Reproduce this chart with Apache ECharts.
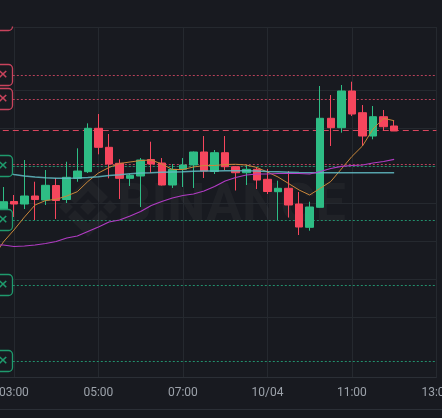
<!DOCTYPE html>
<html>
<head>
<meta charset="utf-8">
<script src="https://cdn.jsdelivr.net/npm/echarts@6/dist/echarts.min.js"></script>
<style>
  html, body { margin: 0; padding: 0; background: #181a20; }
  #chart { width: 442px; height: 418px; }
</style>
</head>
<body>
<div id="chart"></div>
<script>
  // 15 minute candles
  const times = ['02:30', '02:45', '03:00', '03:15', '03:30', '03:45', '04:00', '04:15', '04:30', '04:45',
    '05:00', '05:15', '05:30', '05:45', '06:00', '06:15', '06:30', '06:45', '07:00', '07:15',
    '07:30', '07:45', '08:00', '08:15', '08:30', '08:45', '09:00', '09:15', '09:30', '09:45',
    '10:00', '10:15', '10:30', '10:45', '11:00', '11:15', '11:30', '11:45', '12:00', '12:15',
    '12:30', '12:45', '13:00']
  const tickTimes = ['03:00', '05:00', '07:00', '09:00', '11:00', '13:00']
  const tickLabels = ['03:00', '05:00', '07:00', '10/04', '11:00', '13:00']

  // [open, close, low, high]
  const candles = [
    ['-', '-', '-', '-'],
    [128.31, 130.50, 127.51, 134.39], [130.56, 129.89, 126.46, 132.28], [129.89, 132.01, 128.57, 141.53],
    [132.01, 131.08, 125.66, 135.79], [130.95, 134.84, 129.63, 138.89], [134.79, 130.82, 125.93, 136.77],
    [131.08, 136.96, 130.16, 141.08], [136.69, 138.62, 135.79, 144.63], [138.44, 149.92, 138.10, 151.24],
    [149.92, 144.89, 143.04, 153.70], [144.89, 140.48, 136.69, 148.41], [140.66, 136.69, 131.22, 141.72],
    [136.69, 137.49, 134.66, 137.83], [137.30, 141.53, 129.10, 142.06], [141.67, 140.48, 138.10, 146.38],
    [140.74, 134.92, 134.79, 142.06], [134.92, 139.07, 134.13, 140.48], [139.07, 140.21, 134.39, 142.06],
    [140.21, 143.65, 134.13, 143.78], [143.65, 138.62, 136.77, 147.88], [138.49, 143.47, 137.83, 144.18],
    [143.47, 139.76, 138.89, 147.88], [139.76, 138.17, 133.47, 139.95], [138.17, 139.07, 134.92, 140.21],
    [139.07, 136.24, 133.86, 139.68], [136.43, 133.20, 132.54, 139.15], [133.15, 134.05, 125.66, 136.06],
    [134.05, 129.63, 126.32, 138.62], [129.89, 123.81, 121.69, 133.07], [123.73, 129.10, 122.83, 130.50],
    [129.02, 152.57, 128.97, 161.11], [152.57, 150.08, 145.24, 158.73], [150.08, 159.79, 148.76, 161.38],
    [159.79, 153.70, 153.17, 162.25], [154.05, 147.88, 145.24, 156.08], [147.88, 152.99, 147.01, 155.82],
    [152.99, 150.34, 149.29, 154.76], [150.53, 149.21, 149.21, 151.93]
  ]

  const maFast = [115.61, 119.84, 123.02, 126.46, 129.63, 130.82, 131.14, 132.01, 133.15, 135.85,
    138.10, 139.55, 140.61, 141.01, 141.40, 141.53, 140.48, 139.02, 139.02, 139.68,
    140.08, 140.08, 140.34, 140.40, 140.21, 139.55, 138.36, 137.04, 135.32, 133.60,
    132.28, 134.05, 135.85, 139.15, 142.46, 145.24, 149.74, 152.57, 151.93]
  const maSlow = [119.05, 119.05, 118.65, 118.78, 119.05, 119.44, 119.97, 120.90, 121.43, 122.62,
    123.81, 125.13, 125.66, 126.72, 127.91, 129.50, 130.56, 131.48, 132.14, 132.54,
    133.33, 134.52, 135.98, 136.91, 137.57, 137.83, 137.83, 137.96, 137.96, 137.96,
    137.83, 138.49, 139.29, 139.87, 140.08, 140.21, 140.74, 141.14, 141.72]
  const maMid = [138.49, 138.23, 137.70, 137.30, 137.04, 136.85, 136.72, 136.69, 136.77, 136.90,
    137.12, 137.43, 137.65, 137.91, 138.10, 138.17, 138.28, 138.36, 138.44, 138.54,
    138.62, 138.62, 138.68, 138.68, 138.68, 138.62, 138.49, 138.41, 138.31, 138.20,
    138.17, 138.17, 138.17, 138.17, 138.17, 138.17, 138.17, 138.17, 138.17]

  const gridLevels = [176.72, 160, 150, 140, 130, 120, 110, 100]
  const lastPrice = 149.47
  const sellLines = [164.02, 157.67, 140.48]
  const buyLines = [139.95, 125.66, 108.47, 88.36]
  const sellBoxes = [178.57, 164.02, 157.67]
  const buyBoxes = [139.95, 125.66, 108.47, 88.36]

  const bg = '#181a20'
  const gridColor = '#25292f'
  const up = '#2ebd85'
  const down = '#f6465d'

  const chart = echarts.init(document.getElementById('chart'))

  const hLine = (v, color, type) => ({
    yAxis: v,
    lineStyle: { color: color, type: type, width: 1 }
  })

  const isTick = (i) => tickTimes.indexOf(times[i]) >= 0

  const option = {
    backgroundColor: bg,
    animation: false,
    grid: { left: -7.2, right: 5.6, top: 27, bottom: 41, outerBoundsMode: 'none', containLabel: false },
    xAxis: {
      type: 'category',
      data: times,
      boundaryGap: false,
      axisLine: { show: true, lineStyle: { color: '#2b2f36' } },
      axisTick: { show: false },
      axisLabel: {
        interval: (i) => isTick(i),
        formatter: (v) => tickLabels[tickTimes.indexOf(v)],
        color: '#9ca2aa',
        fontFamily: 'Roboto',
        fontSize: 12,
        margin: 10,
        hideOverlap: false
      },
      splitLine: {
        show: true,
        interval: (i) => isTick(i),
        lineStyle: { color: gridColor, width: 1 }
      }
    },
    yAxis: {
      type: 'value',
      min: 84.13,
      max: 176.72,
      show: false,
      splitLine: { show: false }
    },
    series: [
      {
        name: 'levels',
        type: 'line',
        data: [],
        z: 1,
        silent: true,
        markLine: {
          silent: true,
          symbol: 'none',
          label: { show: false },
          z: 1,
          data: [].concat(
            gridLevels.map(v => hLine(v, gridColor, 'solid')),
            sellLines.map(v => hLine(v, '#b8415a', [2, 2])),
            buyLines.map(v => hLine(v, '#22906c', [2, 2])),
            [hLine(lastPrice, '#d9465e', [6, 4])]
          )
        }
      },
      {
        name: 'K',
        type: 'candlestick',
        data: candles,
        barWidth: 8,
        z: 2,
        itemStyle: {
          color: up,
          color0: down,
          borderColor: up,
          borderColor0: down,
          borderWidth: 1
        }
      },
      {
        name: 'MA7',
        type: 'line',
        data: maFast,
        showSymbol: false,
        z: 3,
        lineStyle: { color: '#c9873a', width: 1 }
      },
      {
        name: 'MA25',
        type: 'line',
        data: maMid,
        showSymbol: false,
        z: 3,
        lineStyle: { color: '#62bcc4', width: 1.5, opacity: 0.85 }
      },
      {
        name: 'MA99',
        type: 'line',
        data: maSlow,
        showSymbol: false,
        z: 3,
        lineStyle: { color: '#b13bc3', width: 1.2 }
      }
    ]
  }
  chart.setOption(option)

  // watermark + order boxes
  const wm = 'rgba(255,255,255,0.035)'
  const cx = 88, cy = 207
  const graphics = [
    {
      type: 'group', x: cx, y: cy, z: 0, silent: true,
      children: [
        { type: 'polygon', shape: { points: [[0, -8], [8, 0], [0, 8], [-8, 0]] }, style: { fill: wm } },
        { type: 'polygon', shape: { points: [[-22, -7], [-15, 0], [-22, 7], [-29, 0]] }, style: { fill: wm } },
        { type: 'polygon', shape: { points: [[22, -7], [29, 0], [22, 7], [15, 0]] }, style: { fill: wm } },
        { type: 'polygon', shape: { points: [[0, -30], [20, -10], [13, -3], [0, -16], [-13, -3], [-20, -10]] }, style: { fill: wm } },
        { type: 'polygon', shape: { points: [[0, 30], [20, 10], [13, 3], [0, 16], [-13, 3], [-20, 10]] }, style: { fill: wm } }
      ]
    },
    {
      type: 'text', z: 0, silent: true,
      style: { x: 117, y: 207, text: 'BINANCE', font: 'bold 54px Roboto', fill: wm, verticalAlign: 'middle' }
    },
    {
      type: 'line', z: 10, silent: true,
      shape: { x1: 0, y1: 409.5, x2: 442, y2: 409.5 },
      style: { stroke: '#2b2f36', lineWidth: 1 }
    }
  ]
  const addBox = (v, color) => {
    const py = chart.convertToPixel({ yAxisIndex: 0 }, v)
    graphics.push({
      type: 'rect', z: 10, silent: true,
      shape: { x: -8, y: py - 10.5, width: 20.5, height: 21, r: 4 },
      style: { fill: bg, stroke: color, lineWidth: 1.3 }
    })
    graphics.push({
      type: 'text', z: 11, silent: true,
      style: { x: 3, y: py, text: '×', font: 'bold 13px DejaVu Sans', fill: color, align: 'center', verticalAlign: 'middle' }
    })
  }
  sellBoxes.forEach(v => addBox(v, '#c8435c'))
  buyBoxes.forEach(v => addBox(v, '#1f9a6d'))
  // top pane cover
  graphics.push({
    type: 'rect', z: 20, silent: true,
    shape: { x: 0, y: 0, width: 442, height: 26.5 },
    style: { fill: bg }
  })
  chart.setOption({ graphic: graphics })
  window.addEventListener('resize', () => { chart.resize() })
</script>
</body>
</html>
